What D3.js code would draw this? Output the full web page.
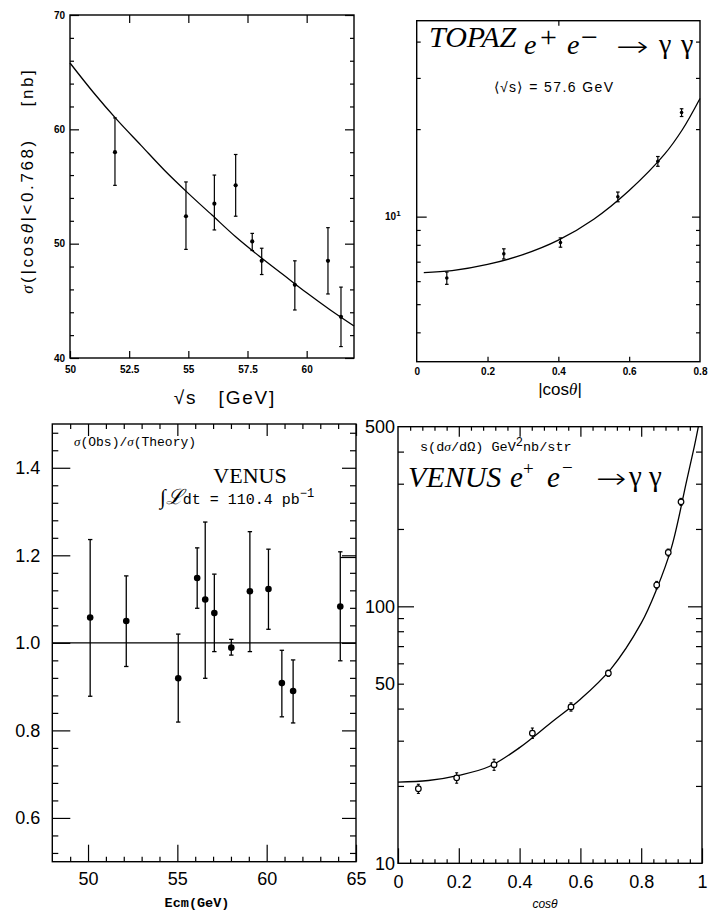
<!DOCTYPE html>
<html>
<head>
<meta charset="utf-8">
<script src="https://cdn.jsdelivr.net/npm/d3@7/dist/d3.min.js"></script>
<style>
  html, body { margin: 0; padding: 0; background: #fff; }
  svg { display: block; }
</style>
</head>
<body>
<svg id="chart" width="711" height="911"></svg>
<script>
// ---------------- DATA ----------------
// Panel 1 (top-left): sigma(|cos|<0.768) vs sqrt(s)
const p1Energy   = [51.9, 54.9, 56.1, 57.0, 57.7, 58.1, 59.5, 60.9, 61.45];
const p1Sigma    = [58.0, 52.4, 53.5, 55.1, 50.2, 48.5, 46.4, 48.5, 43.6];
const p1ErrUp    = [3.0, 3.0, 2.5, 2.7, 0.7, 1.1, 2.1, 2.9, 2.6];
const p1ErrDown  = [2.9, 2.9, 2.3, 2.7, 0.8, 1.2, 2.2, 2.9, 2.6];
const p1CurveE   = [50, 51, 52, 53, 54, 55, 56, 57, 58, 59, 60, 61, 62];
const p1CurveSig = [65.8, 63.2, 60.8, 58.6, 56.4, 54.4, 52.5, 50.6, 48.9, 47.3, 45.7, 44.2, 42.8];
const p1XTicks   = [50, 52.5, 55, 57.5, 60];
const p1YTicks   = [40, 50, 60, 70];

// Panel 2 (top-right): TOPAZ dsigma/dcos vs |cos|
const p2Cos      = [0.085, 0.246, 0.406, 0.568, 0.681, 0.748];
const p2Val      = [6.15, 7.45, 8.15, 11.7, 15.5, 22.8];
const p2Err      = [0.3, 0.3, 0.3, 0.45, 0.6, 0.7];
const p2CurveCos = [0.02, 0.1, 0.2, 0.3, 0.4, 0.5, 0.6, 0.7, 0.75, 0.8];
const p2CurveVal = [6.42, 6.52, 6.85, 7.4, 8.3, 9.8, 12.3, 16.4, 19.9, 25.5];
const p2XTicks   = [0, 0.2, 0.4, 0.6, 0.8];

// Panel 3 (bottom-left): VENUS sigma(obs)/sigma(theory) vs Ecm
const p3Energy   = [50.12, 52.14, 55.05, 56.11, 56.56, 57.07, 58.02, 59.06, 60.1, 60.85, 61.48, 64.12];
const p3Ratio    = [1.058, 1.05, 0.919, 1.148, 1.099, 1.068, 0.989, 1.118, 1.123, 0.908, 0.89, 1.083];
const p3Up       = [1.236, 1.153, 1.02, 1.217, 1.276, 1.157, 1.008, 1.254, 1.214, 0.983, 0.961, 1.208];
const p3Down     = [0.878, 0.946, 0.819, 1.079, 0.919, 0.98, 0.972, 0.98, 1.031, 0.831, 0.817, 0.959];
const p3XTicks   = [50, 55, 60, 65];
const p3YTicks   = [0.6, 0.8, 1.0, 1.2, 1.4];

// Panel 4 (bottom-right): VENUS s dsigma/dOmega vs cos
const p4Cos      = [0.067, 0.193, 0.316, 0.442, 0.569, 0.692, 0.851, 0.889, 0.931];
const p4Val      = [19.5, 21.5, 24.2, 32.1, 40.6, 54.9, 121, 162, 255];
const p4Err      = [0.8, 1.0, 1.2, 1.5, 1.5, 1.5, 4, 5, 8];
const p4CurveCos = [0, 0.1, 0.2, 0.3, 0.4, 0.5, 0.6, 0.7, 0.8, 0.85, 0.9, 0.95, 0.975, 0.988];
const p4CurveVal = [20.7, 21.0, 22.0, 23.8, 28.2, 35.0, 43.5, 57, 86, 116, 170, 310, 420, 500];
const p4XTicks   = [0, 0.2, 0.4, 0.6, 0.8, 1];
const p4YTicks   = [10, 50, 100, 500];

// ---------------- HELPERS ----------------
const svg = d3.select('#chart');
const SANS = 'Liberation Sans, Arial, sans-serif';
const SERIF = 'Liberation Serif, Times New Roman, serif';
const MONO = 'Liberation Mono, Courier New, monospace';

function frame(g, x, y) {
  const [x0, x1] = x.range(), [y0, y1] = y.range();
  g.append('rect').attr('x', x0).attr('y', y1).attr('width', x1 - x0).attr('height', y0 - y1)
    .attr('fill', 'none').attr('stroke', '#000').attr('stroke-width', 1.4);
}
function ticks(g, kind, scale, other, values, len, fmt, pad, font) {
  let ax, tr;
  const [o0, o1] = other.range();
  if (kind === 'bottom') { ax = d3.axisBottom(scale); tr = `translate(0,${o0})`; }
  if (kind === 'top')    { ax = d3.axisTop(scale);    tr = `translate(0,${o1})`; }
  if (kind === 'left')   { ax = d3.axisLeft(scale);   tr = `translate(${o0},0)`; }
  if (kind === 'right')  { ax = d3.axisRight(scale);  tr = `translate(${o1},0)`; }
  ax.tickValues(values).tickSize(-len).tickSizeOuter(0).tickPadding(pad || 3)
    .tickFormat(fmt || (() => ''));
  const a = g.append('g').attr('transform', tr).call(ax);
  a.select('.domain').remove();
  a.selectAll('line').attr('stroke', '#000').attr('stroke-width', 1.2);
  if (font) {
    a.attr('font-family', font.family).attr('font-size', font.size).attr('font-weight', font.weight || 'normal');
  }
  return a;
}
function errorBars(g, xs, ys, lo, hi, x, y, cap, sw) {
  const d = xs.map((v, i) => ({ x: v, y: ys[i], lo: lo[i], hi: hi[i] }));
  g.selectAll(null).data(d).enter().append('line')
    .attr('x1', p => x(p.x)).attr('x2', p => x(p.x))
    .attr('y1', p => y(p.lo)).attr('y2', p => y(p.hi))
    .attr('stroke', '#000').attr('stroke-width', sw);
  ['lo', 'hi'].forEach(k => {
    g.selectAll(null).data(d).enter().append('line')
      .attr('x1', p => x(p.x) - cap).attr('x2', p => x(p.x) + cap)
      .attr('y1', p => y(p[k])).attr('y2', p => y(p[k]))
      .attr('stroke', '#000').attr('stroke-width', sw);
  });
  return d;
}
function curve(g, xs, ys, x, y) {
  const d = xs.map((v, i) => [v, ys[i]]);
  g.append('path').datum(d)
    .attr('d', d3.line().x(p => x(p[0])).y(p => y(p[1])).curve(d3.curveCatmullRom.alpha(0.5)))
    .attr('fill', 'none').attr('stroke', '#000').attr('stroke-width', 1.3);
}
function range(a, b, step) { const r = []; for (let v = a; v <= b + 1e-9; v += step) r.push(+v.toFixed(6)); return r; }
function put(g, txt, x, y, size, opts) {
  const t = g.append('text').attr('x', x).attr('y', y).attr('font-size', size).text(txt);
  if (opts && opts.italic) t.attr('font-style', 'italic');
  return t;
}
function arrow(g, x, y, size, sx) {
  g.append('text').attr('transform', `translate(${x},${y}) scale(${sx},1)`)
    .attr('font-family', 'DejaVu Sans').attr('font-weight', 200).attr('font-size', size).text('→');
}

// ---------------- PANEL 1 ----------------
{
  const g = svg.append('g');
  const x = d3.scaleLinear().domain([50, 62]).range([70, 354]);
  const y = d3.scaleLinear().domain([40, 70]).range([358, 15]);
  const f = { family: SANS, size: 10, weight: 'bold' };
  frame(g, x, y);
  ticks(g, 'bottom', x, y, p1XTicks, 7, d => d3.format('')(d), 8, f);
  ticks(g, 'top', x, y, p1XTicks.slice(1), 8);
  ticks(g, 'left', y, x, p1YTicks, 9, d => d, 5, f);
  ticks(g, 'left', y, x, range(42, 68, 2).filter(v => v % 10), 4);
  ticks(g, 'right', y, x, p1YTicks, 9);
  ticks(g, 'right', y, x, range(42, 68, 2).filter(v => v % 10), 4);
  curve(g, p1CurveE, p1CurveSig, x, y);
  const lo = p1Sigma.map((v, i) => v - p1ErrDown[i]), hi = p1Sigma.map((v, i) => v + p1ErrUp[i]);
  errorBars(g, p1Energy, p1Sigma, lo, hi, x, y, 1.8, 1.2);
  g.selectAll(null).data(p1Energy).enter().append('circle')
    .attr('cx', d => x(d)).attr('cy', (d, i) => y(p1Sigma[i])).attr('r', 2.1).attr('fill', '#000');
  // axis titles
  g.append('text').attr('transform', 'translate(33,216) rotate(-90)').attr('text-anchor', 'middle')
    .attr('font-family', SANS).attr('font-size', 17).attr('letter-spacing', 2.6)
    .html('<tspan font-family="Liberation Serif" font-style="italic">σ</tspan>(|cos<tspan font-style="italic">θ</tspan>|&lt;0.768)');
  g.append('text').attr('transform', 'translate(33,87) rotate(-90)').attr('text-anchor', 'middle')
    .attr('font-family', SANS).attr('font-size', 17).attr('letter-spacing', 2.6).text('[nb]');
  g.append('text').attr('x', 225).attr('y', 404).attr('text-anchor', 'middle')
    .attr('font-family', SANS).attr('font-size', 19).attr('letter-spacing', 1.8)
    .attr('xml:space', 'preserve').text('√s   [GeV]');
}

// ---------------- PANEL 2 ----------------
{
  const g = svg.append('g');
  const x = d3.scaleLinear().domain([0, 0.8]).range([416.7, 700]);
  const y = d3.scaleLog().domain([3.17, 47.2]).range([361.7, 20.7]);
  const f = { family: SANS, size: 10, weight: 'bold' };
  frame(g, x, y);
  ticks(g, 'bottom', x, y, p2XTicks, 0, d => d === 0 ? '0' : d3.format('.1f')(d), 6, f);
  ticks(g, 'bottom', x, y, [0.2, 0.4, 0.6], 5);
  ticks(g, 'top', x, y, [0.4], 5);
  ticks(g, 'left', y, x, [10], 10);
  ticks(g, 'left', y, x, [4, 5, 6, 7, 8, 9, 20, 30, 40], 4);
  ticks(g, 'right', y, x, [10], 8);
  ticks(g, 'right', y, x, [4, 5, 6, 7, 8, 9, 20, 30, 40], 4);
  g.append('text').attr('x', 385).attr('y', y(10) + 3).attr('font-family', SANS).attr('font-size', 10)
    .attr('font-weight', 'bold').html('10<tspan dy="-4" font-size="8">1</tspan>');
  curve(g, p2CurveCos, p2CurveVal, x, y);
  const lo = p2Val.map((v, i) => v - p2Err[i]), hi = p2Val.map((v, i) => v + p2Err[i]);
  errorBars(g, p2Cos, p2Val, lo, hi, x, y, 1.8, 1.2);
  g.selectAll(null).data(p2Cos).enter().append('circle')
    .attr('cx', d => x(d)).attr('cy', (d, i) => y(p2Val[i])).attr('r', 1.8).attr('fill', '#000');
  // titles
  const t = g.append('g').attr('font-family', SERIF);
  put(t, 'TOPAZ', 429, 47, 30, { italic: true });
  put(t, 'e', 524, 54, 28, { italic: true });
  put(t, '+', 540, 47, 30);
  put(t, 'e', 567, 54, 28, { italic: true });
  put(t, '−', 581, 46.5, 30);
  arrow(t, 616, 56, 28, 1.4);
  put(t, 'γ', 659, 53, 28);
  put(t, 'γ', 681, 53, 28);
  g.append('text').attr('x', 554).attr('y', 92).attr('text-anchor', 'middle')
    .attr('font-family', SANS).attr('font-size', 14).attr('letter-spacing', 1.4)
    .attr('xml:space', 'preserve').text('⟨√s⟩ = 57.6 GeV');
  g.append('text').attr('x', 560).attr('y', 395).attr('text-anchor', 'middle')
    .attr('font-family', SANS).attr('font-size', 17)
    .html('|cos<tspan font-family="Liberation Serif" font-style="italic">θ</tspan>|');
}

// ---------------- PANEL 3 ----------------
{
  const g = svg.append('g');
  const x = d3.scaleLinear().domain([48, 65]).range([52.3, 356]);
  const y = d3.scaleLinear().domain([0.5, 1.5]).range([861.7, 424]);
  const f = { family: SANS, size: 18 };
  frame(g, x, y);
  ticks(g, 'bottom', x, y, p3XTicks, 17, d => d, 11, f);
  ticks(g, 'bottom', x, y, range(49, 64, 1).filter(v => v % 5), 5);
  ticks(g, 'top', x, y, p3XTicks, 12);
  ticks(g, 'top', x, y, range(49, 64, 1).filter(v => v % 5), 5);
  ticks(g, 'left', y, x, p3YTicks, 18, d => d3.format('.1f')(d), 12, f);
  const minorY = range(0.52, 1.48, 0.04).filter(v => Math.abs(v * 5 - Math.round(v * 5)) > 1e-6);
  ticks(g, 'left', y, x, minorY, 6);
  ticks(g, 'right', y, x, p3YTicks, 14);
  ticks(g, 'right', y, x, minorY, 6);
  // reference line at 1.0
  g.append('line').attr('x1', x(48)).attr('x2', x(65)).attr('y1', y(1.0)).attr('y2', y(1.0))
    .attr('stroke', '#000').attr('stroke-width', 1.3);
  g.append('line').attr('x1', x(64.12)).attr('x2', x(65)).attr('y1', y(1.195)).attr('y2', y(1.195))
    .attr('stroke', '#000').attr('stroke-width', 1.2);
  errorBars(g, p3Energy, p3Ratio, p3Down, p3Up, x, y, 2.2, 1.3);
  g.selectAll(null).data(p3Energy).enter().append('circle')
    .attr('cx', d => x(d)).attr('cy', (d, i) => y(p3Ratio[i])).attr('r', 3.3).attr('fill', '#000');
  g.append('text').attr('x', 74).attr('y', 446).attr('font-family', MONO).attr('font-size', 13)
    .html('<tspan font-family="Liberation Serif" font-style="italic">σ</tspan>(Obs)/<tspan font-family="Liberation Serif" font-style="italic">σ</tspan>(Theory)');
  g.append('text').attr('x', 250).attr('y', 483).attr('text-anchor', 'middle')
    .attr('font-family', SERIF).attr('font-size', 22).text('VENUS');
  g.append('text').attr('x', 160).attr('y', 504).attr('font-family', MONO).attr('font-size', 15)
    .attr('xml:space', 'preserve')
    .html('<tspan font-family="Liberation Serif" font-size="21" font-style="italic">∫ℒ</tspan>dt = 110.4 pb<tspan dy="-7" font-size="12">−1</tspan>');
  g.append('text').attr('x', 197).attr('y', 907).attr('text-anchor', 'middle')
    .attr('font-family', MONO).attr('font-size', 13.5).attr('font-weight', 'bold').text('Ecm(GeV)');
}

// ---------------- PANEL 4 ----------------
{
  const g = svg.append('g');
  const x = d3.scaleLinear().domain([0, 1]).range([398, 702]);
  const y = d3.scaleLog().domain([10, 500]).range([863.3, 426.7]);
  const f = { family: SANS, size: 18 };
  frame(g, x, y);
  ticks(g, 'bottom', x, y, p4XTicks, 15, d => (d === 0 || d === 1) ? d : d3.format('.1f')(d), 12, f);
  const minorX = range(0.04, 0.96, 0.04).filter(v => Math.abs(v * 5 - Math.round(v * 5)) > 1e-6);
  ticks(g, 'bottom', x, y, minorX, 4);
  ticks(g, 'top', x, y, [0.2, 0.4, 0.6, 0.8], 10);
  ticks(g, 'top', x, y, minorX, 4);
  ticks(g, 'left', y, x, p4YTicks, 0, d => d, 3, f);
  ticks(g, 'left', y, x, [100], 16);
  ticks(g, 'left', y, x, [20, 30, 40, 50, 60, 70, 80, 90, 200, 300, 400], 6);
  ticks(g, 'right', y, x, [100], 14);
  ticks(g, 'right', y, x, [20, 30, 40, 50, 60, 70, 80, 90, 200, 300, 400], 6);
  curve(g, p4CurveCos, p4CurveVal, x, y);
  const lo = p4Val.map((v, i) => v - p4Err[i]), hi = p4Val.map((v, i) => v + p4Err[i]);
  errorBars(g, p4Cos, p4Val, lo, hi, x, y, 1.5, 1.1);
  g.selectAll(null).data(p4Cos).enter().append('circle')
    .attr('cx', d => x(d)).attr('cy', (d, i) => y(p4Val[i])).attr('r', 2.8)
    .attr('fill', '#fff').attr('stroke', '#000').attr('stroke-width', 1.2);
  g.append('text').attr('x', 420).attr('y', 451).attr('font-family', MONO).attr('font-size', 13.5)
    .html('s(d<tspan font-family="Liberation Serif" font-style="italic">σ</tspan>/dΩ) GeV<tspan dy="-5" font-size="12">2</tspan><tspan dy="5">nb/str</tspan>');
  const t = g.append('g').attr('font-family', SERIF);
  put(t, 'VENUS', 408, 487, 30, { italic: true });
  put(t, 'e', 510, 487, 29, { italic: true });
  put(t, '+', 523, 475, 19);
  put(t, 'e', 547, 487, 29, { italic: true });
  put(t, '−', 562, 474, 19);
  arrow(t, 596, 488, 28, 1.3);
  put(t, 'γ', 629, 486, 29);
  put(t, 'γ', 649, 486, 29);
  g.append('text').attr('x', 545).attr('y', 908).attr('text-anchor', 'middle')
    .attr('font-family', SANS).attr('font-size', 12).attr('font-style', 'italic').text('cosθ');
}
</script>
</body>
</html>
